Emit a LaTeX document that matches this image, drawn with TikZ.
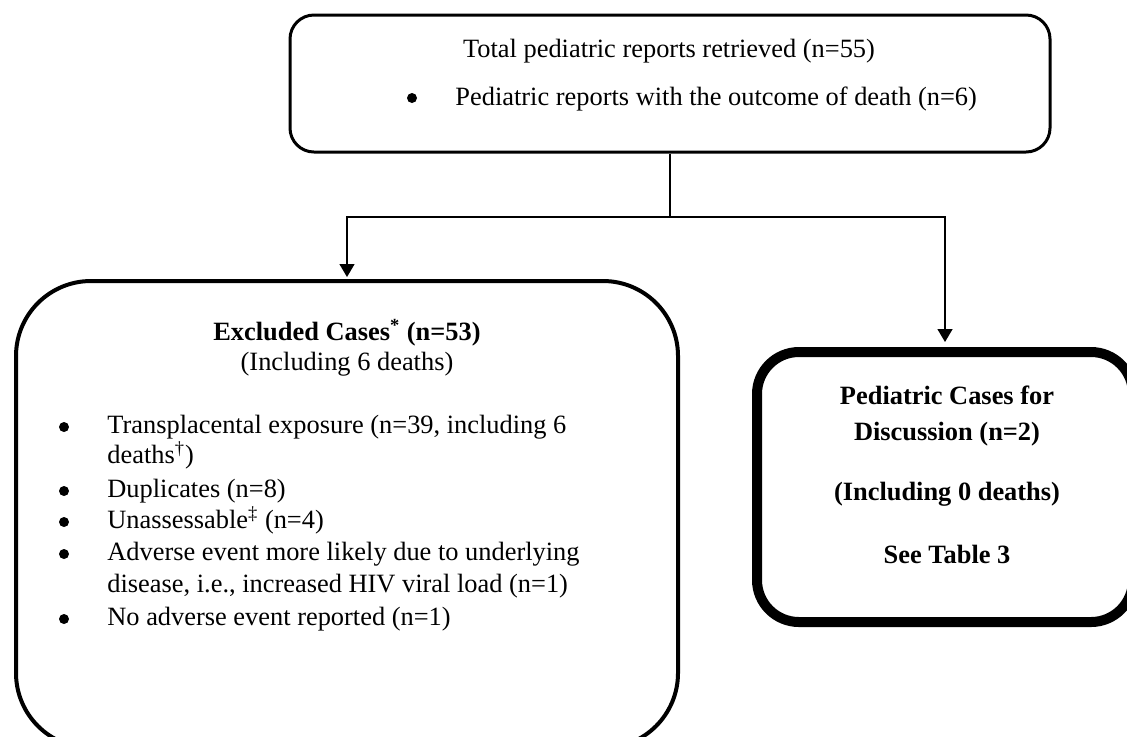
\documentclass[tikz,border=0pt]{standalone}
\usepackage{fontspec}
\setmainfont{Liberation Serif}
\usetikzlibrary{arrows.meta}
\begin{document}
\begin{tikzpicture}[x=0.5pt,y=-0.5pt,
  txt/.style={inner sep=0pt, font=\fontsize{13.2}{16}\selectfont},
  ctxt/.style={txt, anchor=base},
  ltxt/.style={txt, anchor=base west},
  btxt/.style={ctxt, font=\fontsize{13.2}{16}\selectfont\bfseries},
  bul/.style={circle, fill, inner sep=0pt, minimum size=5pt},
  box/.style={draw, rounded corners=#1, inner sep=0pt},
  conn/.style={line width=0.65pt, -{Triangle[width=7.5pt,length=6.5pt]}}]
\clip (0,0) rectangle (1127,736);
% boxes
\node[box=12pt, line width=1.5pt, minimum width=380pt, minimum height=68.5pt] (top) at (670,83.5) {};
\node[box=37.5pt, line width=2pt, minimum width=331pt, minimum height=233.5pt] (left) at (347,514.5) {};
\node[box=21pt, line width=5pt, minimum width=188pt, minimum height=135pt] (right) at (945,487) {};
% connectors
\coordinate (j) at (670,217);
\draw[line width=0.65pt] (top.south) -- (j);
\draw[conn, shorten >=1pt] (j) -| (left.north);
\draw[conn, shorten >=2.5pt] (j) -| (right.north);
% top box text
\node[ctxt] (t1) at (669,57) {Total pediatric reports retrieved (n=55)};
\node[bul] (tb1) at (412,98) {};
\node[ltxt] (t2) at (455,105) {Pediatric reports with the outcome of death (n=6)};
% left box text
\node[ctxt] (l1) at (347,340) {\textbf{Excluded Cases\textsuperscript{*} (n=53)}};
\node[ctxt] (l2) at (347,370) {(Including 6 deaths)};
\node[bul] (lb1) at (64,427) {};
\node[ltxt] (l3) at (107,433) {Transplacental exposure (n=39, including 6};
\node[ltxt] (l4) at (107,463) {deaths\textsuperscript{†})};
\node[bul] (lb2) at (64,491) {};
\node[ltxt] (l5) at (107,497) {Duplicates (n=8)};
\node[bul] (lb3) at (64,522) {};
\node[ltxt] (l6) at (107,528) {Unassessable\textsuperscript{‡} (n=4)};
\node[bul] (lb4) at (64,554) {};
\node[ltxt] (l7) at (107,560) {Adverse event more likely due to underlying};
\node[ltxt] (l8) at (107,592) {disease, i.e., increased HIV viral load (n=1)};
\node[bul] (lb5) at (64,619) {};
\node[ltxt] (l9) at (107,625) {No adverse event reported (n=1)};
% right box text
\node[btxt] (r1) at (947,404) {Pediatric Cases for};
\node[btxt] (r2) at (947,440) {Discussion (n=2)};
\node[btxt] (r3) at (947,500) {(Including 0 deaths)};
\node[btxt] (r4) at (947,563) {See Table 3};
\end{tikzpicture}
\end{document}
